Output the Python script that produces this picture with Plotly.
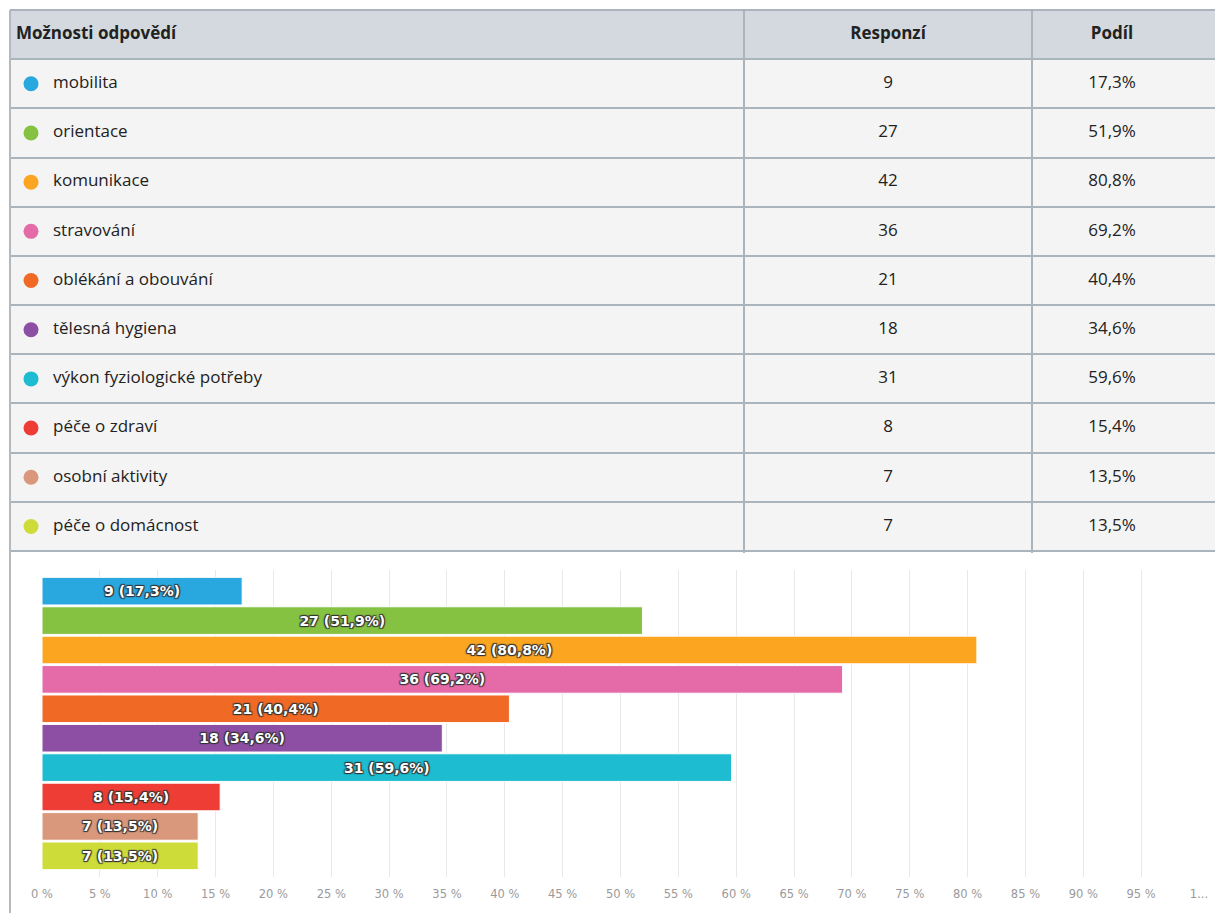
import plotly.graph_objects as go

categories = ["mobilita", "orientace", "komunikace", "stravování", "oblékání a obouvání",
              "tělesná hygiena", "výkon fyziologické potřeby", "péče o zdraví",
              "osobní aktivity", "péče o domácnost"]
responses = [9, 27, 42, 36, 21, 18, 31, 8, 7, 7]
shares = [17.3, 51.9, 80.8, 69.2, 40.4, 34.6, 59.6, 15.4, 13.5, 13.5]
colors = ["#29a8e0", "#86c242", "#fba520", "#e46aa8", "#f06a26",
          "#8d4fa3", "#1dbcd0", "#ee3d34", "#d9987b", "#cddc39"]
headers = ["Možnosti odpovědí", "Responzí", "Podíl"]
tick_vals = [0, 5, 10, 15, 20, 25, 30, 35, 40, 45, 50, 55, 60, 65, 70, 75, 80, 85, 90, 95, 100]
tick_text = [f"{v} %" for v in tick_vals[:-1]] + ["1..."]


def fmt(v):
    return f"{v:.1f}".replace(".", ",")


FONT = "Open Sans"
W, H = 1215, 913
LINE = "#a9b4bc"

# table geometry (pixel-like units on the table axes)
TABLE_W = 1205
COL_BOUNDS = [734, 1022]
COL_NAME_X = 43
DOT_X = 21
HEAD_X = [6, 878, 1102]

row_idx = list(range(1, len(categories) + 1))

fig = go.Figure()

# ---------- table (drawn on x2 / y2) ----------
fig.add_trace(go.Scatter(
    x=HEAD_X, y=[0, 0, 0], mode="text",
    text=[f"<b>{h}</b>" for h in headers],
    textposition=["middle right", "middle center", "middle center"],
    textfont=dict(family=FONT, size=17, color="#222"),
    xaxis="x2", yaxis="y2", hoverinfo="skip",
))
fig.add_trace(go.Scatter(
    x=[DOT_X] * len(categories), y=row_idx, mode="markers",
    marker=dict(color=colors, size=15, line=dict(width=0)),
    xaxis="x2", yaxis="y2", hoverinfo="skip",
))
fig.add_trace(go.Scatter(
    x=[COL_NAME_X] * len(categories), y=row_idx, mode="text",
    text=categories, textposition="middle right",
    textfont=dict(family=FONT, size=17, color="#222"),
    xaxis="x2", yaxis="y2", hoverinfo="skip",
))
fig.add_trace(go.Scatter(
    x=[HEAD_X[1]] * len(categories), y=row_idx, mode="text",
    text=[str(r) for r in responses], textposition="middle center",
    textfont=dict(family=FONT, size=17, color="#222"),
    xaxis="x2", yaxis="y2", hoverinfo="skip",
))
fig.add_trace(go.Scatter(
    x=[HEAD_X[2]] * len(categories), y=row_idx, mode="text",
    text=[fmt(s) + "%" for s in shares], textposition="middle center",
    textfont=dict(family=FONT, size=17, color="#222"),
    xaxis="x2", yaxis="y2", hoverinfo="skip",
))

# ---------- bar chart ----------
fig.add_trace(go.Bar(
    y=categories,
    x=shares,
    orientation="h",
    marker=dict(color=colors, line=dict(color="#ffffff", width=1)),
    text=[f"{r} ({fmt(s)}%)" for r, s in zip(responses, shares)],
    textposition="inside",
    insidetextanchor="middle",
    textangle=0,
    textfont=dict(family="DejaVu Sans", size=14, color="white", weight="bold",
                  shadow="1px 1px 1px #333, -1px -1px 1px #333, 1px -1px 1px #333, -1px 1px 1px #333"),
    cliponaxis=False,
    hoverinfo="skip",
    xaxis="x", yaxis="y",
))

n = len(categories)
fig.update_layout(
    width=W, height=H,
    autosize=False,
    margin=dict(l=0, r=0, t=0, b=0, pad=0),
    paper_bgcolor="white",
    plot_bgcolor="white",
    showlegend=False,
    bargap=0.06,
    xaxis=dict(
        domain=[42 / W, 1199 / W],
        range=[0, 100],
        tickvals=tick_vals,
        ticktext=tick_text,
        showgrid=True,
        gridcolor="#e8e8e8",
        gridwidth=1,
        zeroline=False,
        showline=False,
        tickfont=dict(family="DejaVu Sans", size=11.5, color="#9a9a9a"),
        ticks="",
        ticklabelstandoff=8,
        automargin=False,
        anchor="y",
    ),
    yaxis=dict(
        domain=[1 - 877 / H, 1 - 570 / H],
        categoryorder="array",
        categoryarray=categories[::-1],
        range=[-0.72, n - 1 + 0.72],
        showticklabels=False,
        showgrid=False,
        zeroline=False,
        automargin=False,
        anchor="x",
    ),
    xaxis2=dict(
        domain=[10 / W, 1.0],
        range=[0, TABLE_W],
        tickvals=COL_BOUNDS,
        showticklabels=False,
        showgrid=True, gridcolor=LINE, gridwidth=2,
        zeroline=False, showline=False, ticks="",
        automargin=False,
        anchor="y2",
    ),
    yaxis2=dict(
        domain=[1 - 553 / H, 1 - 10 / H],
        range=[n + 0.54, -0.5],
        tickvals=[i + 0.5 for i in range(n + 1)],
        showticklabels=False,
        showgrid=True, gridcolor=LINE, gridwidth=2,
        zeroline=False, showline=False, ticks="",
        automargin=False,
        anchor="x2",
    ),
    shapes=[
        dict(type="rect", xref="x2", yref="y2", x0=0, x1=TABLE_W, y0=-0.5, y1=0.5,
             fillcolor="#d3d9de", line=dict(width=0), layer="below"),
        dict(type="rect", xref="x2", yref="y2", x0=0, x1=TABLE_W, y0=0.5, y1=n + 0.5,
             fillcolor="#f4f4f4", line=dict(width=0), layer="below"),
        dict(type="line", xref="paper", yref="paper", x0=10 / W, x1=1,
             y0=1 - 10 / H, y1=1 - 10 / H, line=dict(color=LINE, width=2)),
        dict(type="line", xref="paper", yref="paper", x0=10 / W, x1=10 / W,
             y0=0, y1=1 - 10 / H, line=dict(color="#b3b9bd", width=2)),
    ],
)

fig.write_html(
    "out.html",
    config=dict(displayModeBar=False),
    post_script="document.body.style.margin='0';document.body.style.overflow='hidden';",
)
